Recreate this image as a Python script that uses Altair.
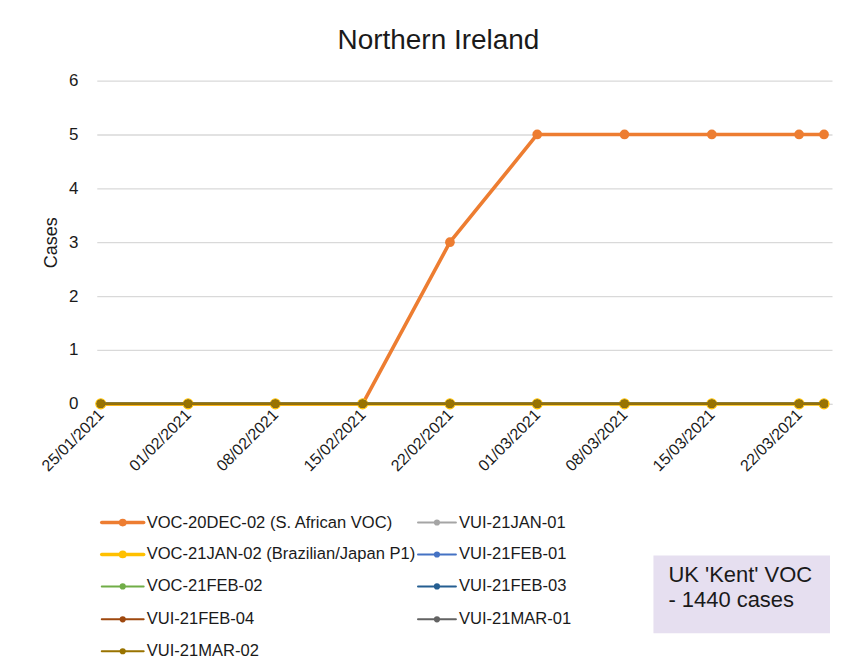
import altair as alt
import pandas as pd

FONT = "Liberation Sans"
TXT = "#1a1a1a"

# ---- data ----
dates = ["2021-01-25", "2021-02-01", "2021-02-08", "2021-02-15", "2021-02-22",
         "2021-03-01", "2021-03-08", "2021-03-15", "2021-03-22", "2021-03-24"]
tick_dates = ["2021-01-25", "2021-02-01", "2021-02-08", "2021-02-15", "2021-02-22",
              "2021-03-01", "2021-03-08", "2021-03-15", "2021-03-22"]

series_names = ["VOC-20DEC-02 (S. African VOC)", "VUI-21JAN-01",
                "VOC-21JAN-02 (Brazilian/Japan P1)", "VUI-21FEB-01",
                "VOC-21FEB-02", "VUI-21FEB-03",
                "VUI-21FEB-04", "VUI-21MAR-01",
                "VUI-21MAR-02"]
series_colors = ["#ED7D31", "#A5A5A5", "#FFC000", "#4472C4", "#70AD47",
                 "#255E91", "#9E480E", "#636363", "#997300"]
series_thick = [True, False, True, False, False, False, False, False, False]

voc_20dec_02 = [0, 0, 0, 0, 3, 5, 5, 5, 5, 5]
vui_21jan_01 = [0, 0, 0, 0, 0, 0, 0, 0, 0, 0]
voc_21jan_02 = [0, 0, 0, 0, 0, 0, 0, 0, 0, 0]
vui_21feb_01 = [0, 0, 0, 0, 0, 0, 0, 0, 0, 0]
voc_21feb_02 = [0, 0, 0, 0, 0, 0, 0, 0, 0, 0]
vui_21feb_03 = [0, 0, 0, 0, 0, 0, 0, 0, 0, 0]
vui_21feb_04 = [0, 0, 0, 0, 0, 0, 0, 0, 0, 0]
vui_21mar_01 = [0, 0, 0, 0, 0, 0, 0, 0, 0, 0]
vui_21mar_02 = [0, 0, 0, 0, 0, 0, 0, 0, 0, 0]
series_values = [voc_20dec_02, vui_21jan_01, voc_21jan_02, vui_21feb_01, voc_21feb_02,
                 vui_21feb_03, vui_21feb_04, vui_21mar_01, vui_21mar_02]

y_ticks = [0, 1, 2, 3, 4, 5, 6]
box_lines = ["UK 'Kent' VOC", "- 1440 cases"]


def dt(s, hours=0, minutes=0):
    y, m, d = s.split("-")
    return alt.DateTime(year=int(y), month=int(m), date=int(d), hours=hours,
                        minutes=minutes, utc=True)


PW, PH = 737, 324

x_scale = alt.Scale(type="utc", nice=False,
                    domain=[dt("2021-01-24", 16, 18), dt("2021-03-24", 15, 22)])
y_scale = alt.Scale(domain=[0, 6], nice=False)

x_axis = alt.Axis(values=[dt(d) for d in tick_dates], format="%d/%m/%Y",
                  labelAngle=-45, labelAlign="right", labelBaseline="middle",
                  labelFontSize=16, labelFont=FONT, labelColor=TXT, ticks=False,
                  tickSize=0, domainColor="#D9D9D9", grid=False, labelPadding=8,
                  labelOverlap=False, title=None)
y_axis = alt.Axis(values=y_ticks, domain=False, ticks=False, tickSize=0,
                  gridColor="#D9D9D9", gridWidth=1.3, labelPadding=19,
                  labelFontSize=17, labelFont=FONT, labelColor=TXT,
                  title="Cases", titleFontSize=18, titleFont=FONT,
                  titleFontWeight="normal", titleColor=TXT, titlePadding=8)

layers = []
for name, color, thick, vals in zip(series_names, series_colors, series_thick, series_values):
    df = pd.DataFrame({"date": dates, "cases": vals, "series": name})
    base = alt.Chart(df).encode(
        x=alt.X("date:T", scale=x_scale, axis=x_axis),
        y=alt.Y("cases:Q", scale=y_scale, axis=y_axis),
    )
    layers.append(base.mark_line(color=color, strokeWidth=3.6 if thick else 2,
                                 strokeJoin="round", strokeCap="round"))
    size = 95 if thick else 65
    if name == "VOC-21JAN-02 (Brazilian/Japan P1)":
        size = 125
    layers.append(base.mark_circle(color=color, size=size, opacity=1))

main = alt.layer(*layers).properties(
    width=PW, height=PH,
    title=alt.TitleParams("Northern Ireland", fontSize=28, font=FONT,
                          fontWeight="normal", color=TXT, anchor="middle",
                          baseline="alphabetic", offset=-5, dx=-26),
)

# ---- custom legend (layout positions in legend-panel units) ----
LH = 150
row_y = [16, 48, 80, 113, 145]
col_line = [(5, 47), (322, 360)]
col_text = [50, 363]

leg_rows = []
for i, (name, color, thick) in enumerate(zip(series_names, series_colors, series_thick)):
    r, c = i // 2, i % 2
    x0, x1 = col_line[c]
    leg_rows.append({"name": name, "color": color,
                     "w": 3.6 if thick else 2, "s": 60 if thick else 38,
                     "x0": x0, "x1": x1, "xm": (x0 + x1) / 2, "xt": col_text[c],
                     "y": row_y[r]})
leg_df = pd.DataFrame(leg_rows)

lx = alt.Scale(domain=[0, PW], nice=False)
ly = alt.Scale(domain=[0, LH], reverse=True, nice=False)

leg_lines = alt.Chart(leg_df).mark_rule(strokeCap="round").encode(
    x=alt.X("x0:Q", scale=lx, axis=None), x2="x1:Q",
    y=alt.Y("y:Q", scale=ly, axis=None),
    color=alt.Color("color:N", scale=None),
    strokeWidth=alt.StrokeWidth("w:Q", scale=None),
)
leg_dots = alt.Chart(leg_df).mark_circle(opacity=1).encode(
    x=alt.X("xm:Q", scale=lx, axis=None),
    y=alt.Y("y:Q", scale=ly, axis=None),
    color=alt.Color("color:N", scale=None),
    size=alt.Size("s:Q", scale=None),
)
leg_text = alt.Chart(leg_df).mark_text(align="left", baseline="middle", fontSize=16.6,
                                       font=FONT, color=TXT).encode(
    x=alt.X("xt:Q", scale=lx, axis=None),
    y=alt.Y("y:Q", scale=ly, axis=None),
    text="name:N",
)

box_df = pd.DataFrame({"x0": [558], "x1": [735], "y0": [49], "y1": [127]})
box = alt.Chart(box_df).mark_rect(color="#E6DFF0").encode(
    x=alt.X("x0:Q", scale=lx, axis=None), x2="x1:Q",
    y=alt.Y("y0:Q", scale=ly, axis=None), y2="y1:Q",
)
box_text_df = pd.DataFrame({"t": box_lines, "x": [573, 573], "y": [69, 94]})
box_text = alt.Chart(box_text_df).mark_text(align="left", baseline="middle", fontSize=22,
                                            font=FONT, color=TXT).encode(
    x=alt.X("x:Q", scale=lx, axis=None),
    y=alt.Y("y:Q", scale=ly, axis=None),
    text="t:N",
)

legend = alt.layer(leg_lines, leg_dots, leg_text, box, box_text).properties(width=PW, height=LH)

chart = alt.vconcat(main, legend, spacing=31).properties(
    padding={"left": 30, "top": 17, "right": 0, "bottom": 0},
    background="white",
).configure(font=FONT, view=alt.ViewConfig(stroke="transparent"))

chart.save("out.html", embed_options={"renderer": "svg", "actions": False})
